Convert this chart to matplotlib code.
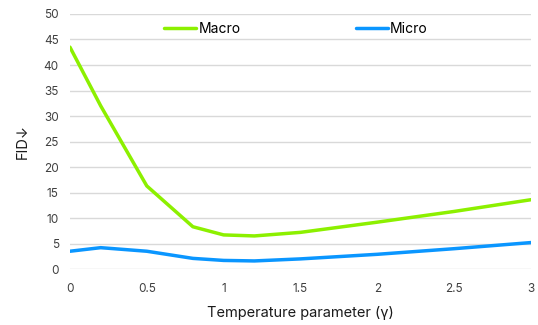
import numpy as np
import matplotlib.pyplot as plt

plt.rcParams['font.family'] = ['Inter', 'DejaVu Sans']

# data
gamma = [0, 0.2, 0.5, 0.8, 1.0, 1.2, 1.5, 2.0, 2.5, 3.0]
fid_macro = [43.5, 32.0, 16.3, 8.3, 6.7, 6.5, 7.2, 9.2, 11.3, 13.6]
fid_micro = [3.5, 4.2, 3.5, 2.1, 1.7, 1.6, 2.0, 2.9, 4.0, 5.2]

xticks = [0, 0.5, 1, 1.5, 2, 2.5, 3]
yticks = list(range(0, 55, 5))

fig = plt.figure(figsize=(5.38, 3.25), dpi=100)
ax = fig.add_axes([0.130, 0.172, 0.857, 0.785])

ax.plot(gamma, fid_macro, color='#8CF000', lw=2.5, label='Macro',
        solid_capstyle='round')
ax.plot(gamma, fid_micro, color='#0A96FF', lw=2.5, label='Micro',
        solid_capstyle='round')

ax.set_xlim(0, 3)
ax.set_ylim(0, 50)
ax.set_xticks(xticks)
ax.set_xticklabels([str(t) for t in xticks])
ax.set_yticks(yticks)
ax.grid(axis='y', color='#D9D9D9', lw=1)
ax.set_axisbelow(True)
for s in ax.spines.values():
    s.set_visible(False)
ax.tick_params(length=0, labelsize=8.5, colors='#404040', pad=8)
ax.tick_params(axis='x', pad=10)

ax.set_xlabel('Temperature parameter (γ)', fontsize=10.5, color='#1a1a1a',
              labelpad=8)
ax.set_ylabel('FID↓', fontsize=10.5, color='#1a1a1a', labelpad=10)

ax.legend(loc='center', bbox_to_anchor=(0.49, 0.94), ncol=2, frameon=False,
          fontsize=10, handlelength=2.3, handletextpad=0.15,
          columnspacing=8.3, borderpad=0)

fig.savefig('out.png', dpi=100, facecolor='white')
